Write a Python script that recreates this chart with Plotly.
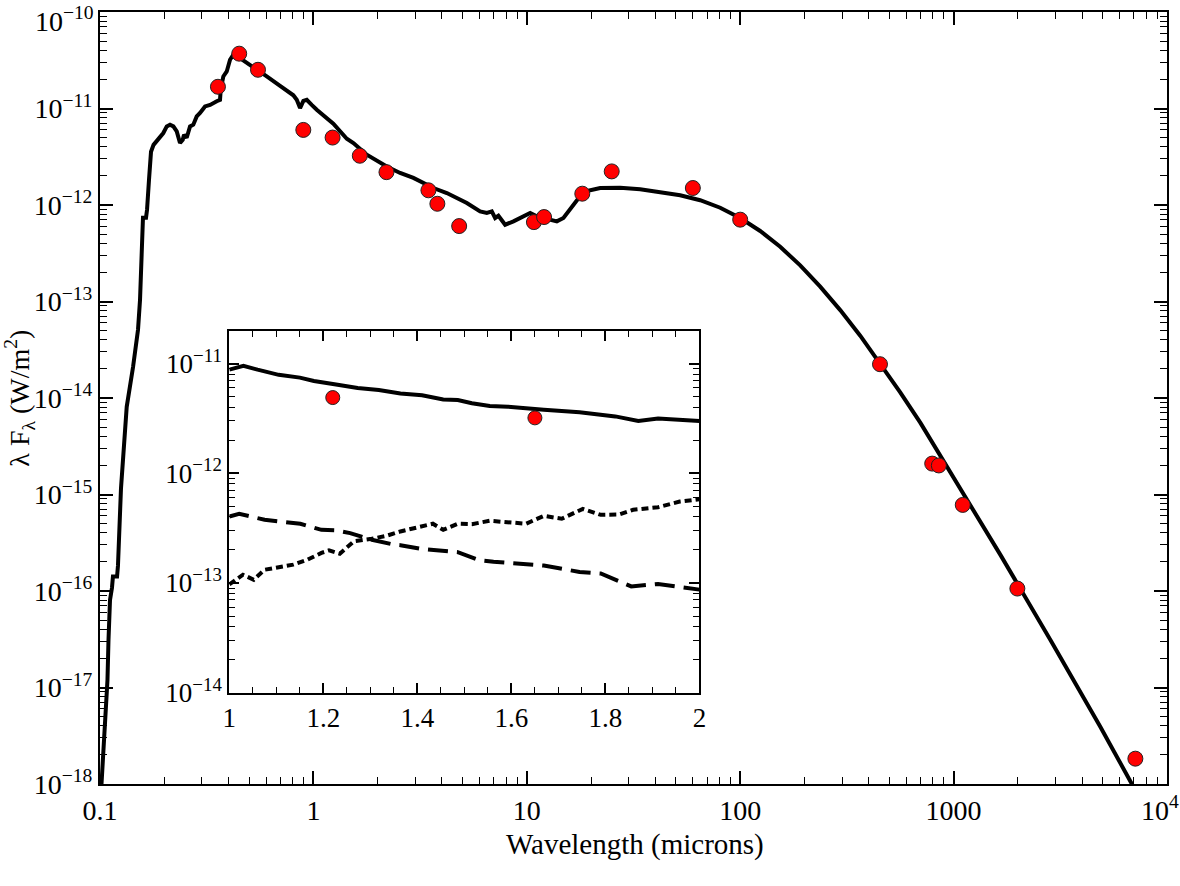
import plotly.graph_objects as go

# ---------------- data ----------------
# model SED (main panel): wavelength (micron), lambda*F_lambda (W/m^2)
model_wl = [0.1015, 0.1044, 0.1067, 0.1084, 0.1096, 0.1114, 0.1138, 0.1150, 0.1202, 0.1214,
            0.1254, 0.1288, 0.1334, 0.1429, 0.1507, 0.154, 0.1564, 0.1581, 0.159, 0.1643,
            0.1661, 0.1697, 0.1734, 0.1782, 0.1845, 0.191, 0.198, 0.2055, 0.2128, 0.2207,
            0.2289, 0.2371, 0.2442, 0.2476, 0.2548, 0.2642, 0.2737, 0.2839, 0.2943, 0.3106,
            0.328, 0.3524, 0.3651, 0.3679, 0.3784, 0.3926, 0.4067, 0.4216, 0.4373, 0.453,
            0.5232, 0.6045, 0.698, 0.8056, 0.8356, 0.866, 0.8975, 0.931, 0.982, 1.037,
            1.24, 1.434, 1.54, 1.779, 2.207, 2.549, 2.942, 3.651, 4.219, 5.236,
            6.043, 6.497, 6.855, 7.106, 7.364, 7.917, 8.659, 10.37, 11.14, 13.83,
            14.85, 18.43, 22.07, 27.38, 33.98, 42.17, 52.33, 64.94, 80.6, 100.0,
            124.1, 154.0, 191.1, 237.1, 294.3, 365.2, 453.3, 562.3, 698.1, 866.0,
            1075, 1334, 1655, 2839, 4870, 7028]
model_flux = [9.5e-19, 2.88e-18, 7.46e-18, 1.2e-17, 3.13e-17, 8.1e-17, 1.08e-16, 1.41e-16, 1.41e-16, 1.83e-16,
              1.15e-15, 3.13e-15, 8.1e-15, 2.11e-14, 5.1e-14, 1.04e-13, 3.44e-13, 6.7e-13, 7.4e-13, 7.4e-13,
              8.9e-13, 1.83e-12, 3.56e-12, 4.2e-12, 4.56e-12, 4.94e-12, 5.57e-12, 6.53e-12, 6.8e-12, 6.53e-12,
              5.8e-12, 4.39e-12, 4.75e-12, 5.35e-12, 4.98e-12, 6.53e-12, 6.8e-12, 8.28e-12, 8.98e-12, 1.05e-11,
              1.09e-11, 1.19e-11, 1.23e-11, 1.57e-11, 2.15e-11, 2.42e-11, 3.2e-11, 3.61e-11, 3.57e-11, 3.33e-11,
              2.71e-11, 2.15e-11, 1.72e-11, 1.37e-11, 1.23e-11, 1.01e-11, 1.2e-11, 1.23e-11, 1.09e-11, 9.7e-12,
              6.97e-12, 4.86e-12, 4.38e-12, 3.32e-12, 2.51e-12, 2.15e-12, 1.91e-12, 1.5e-12, 1.33e-12, 1.05e-12,
              8.6e-13, 8.26e-13, 8.58e-13, 7.33e-13, 7.74e-13, 6.25e-13, 6.77e-13, 8.26e-13, 7.62e-13, 6.77e-13,
              7.33e-13, 1.37e-12, 1.5e-12, 1.511e-12, 1.458e-12, 1.373e-12, 1.263e-12, 1.121e-12, 9.37e-13, 7.33e-13,
              5.38e-13, 3.69e-13, 2.366e-13, 1.427e-13, 8.15e-14, 4.42e-14, 2.294e-14, 1.146e-14, 5.55e-15, 2.52e-15,
              1.148e-15, 5.22e-16, 2.38e-16, 3.13e-17, 3.93e-18, 9.0e-19]

# photometry (main panel)
phot_wl = [0.357, 0.449, 0.55, 0.897, 1.23, 1.65, 2.2, 3.46, 3.81, 4.82, 10.8, 12.05,
           18.2, 25, 60, 100, 452, 794, 853, 1104, 1990, 7110]
phot_flux = [1.68e-11, 3.7e-11, 2.52e-11, 6.0e-12, 5.0e-12, 3.24e-12, 2.19e-12, 1.42e-12,
             1.03e-12, 6.05e-13, 6.65e-13, 7.5e-13, 1.31e-12, 2.23e-12, 1.5e-12, 7.05e-13,
             2.24e-14, 2.09e-15, 2.0e-15, 7.8e-16, 1.06e-16, 1.83e-18]

# inset: total model, two components, and J/H photometry
inset_tot_wl = [1.0, 1.03, 1.06, 1.105, 1.15, 1.18, 1.227, 1.273, 1.318, 1.364, 1.41,
                1.455, 1.486, 1.516, 1.554, 1.593, 1.669, 1.745, 1.821, 1.87, 1.912, 2.0]
inset_tot_flux = [8.8e-12, 9.55e-12, 8.8e-12, 7.9e-12, 7.45e-12, 6.95e-12, 6.45e-12, 6.0e-12,
                  5.75e-12, 5.35e-12, 5.15e-12, 4.7e-12, 4.65e-12, 4.35e-12, 4.1e-12, 4.05e-12,
                  3.8e-12, 3.6e-12, 3.3e-12, 3.0e-12, 3.15e-12, 3.0e-12]

inset_dash_wl = [1.0, 1.021, 1.075, 1.151, 1.196, 1.227, 1.257, 1.303, 1.349, 1.364, 1.41,
                 1.486, 1.532, 1.562, 1.669, 1.745, 1.79, 1.855, 1.912, 2.0]
inset_dash_flux = [4.04e-13, 4.27e-13, 3.77e-13, 3.47e-13, 3.05e-13, 3.02e-13, 2.85e-13,
                   2.48e-13, 2.24e-13, 2.21e-13, 2.04e-13, 1.91e-13, 1.61e-13, 1.56e-13,
                   1.44e-13, 1.26e-13, 1.22e-13, 9.3e-14, 9.8e-14, 8.7e-14]

inset_dot_wl = [1.0, 1.029, 1.052, 1.075, 1.136, 1.166, 1.196, 1.212, 1.235, 1.265, 1.303,
                1.334, 1.364, 1.41, 1.433, 1.455, 1.486, 1.516, 1.554, 1.631, 1.669, 1.707,
                1.752, 1.79, 1.829, 1.859, 1.912, 1.958, 2.0]
inset_dot_flux = [9.7e-14, 1.19e-13, 1.07e-13, 1.32e-13, 1.47e-13, 1.63e-13, 1.88e-13, 1.98e-13,
                  1.85e-13, 2.4e-13, 2.53e-13, 2.69e-13, 2.95e-13, 3.32e-13, 3.47e-13, 3.05e-13,
                  3.47e-13, 3.44e-13, 3.69e-13, 3.47e-13, 4.09e-13, 3.85e-13, 4.74e-13, 4.18e-13,
                  4.21e-13, 4.65e-13, 4.91e-13, 5.52e-13, 5.8e-13]

inset_phot_wl = [1.22, 1.65]
inset_phot_flux = [4.9e-12, 3.2e-12]

# tick labels
main_x_tickvals = [0.1, 1, 10, 100, 1000, 10000]
main_x_ticktext = ["0.1", "1", "10", "100", "1000", "10<sup>4</sup>\u00a0\u00a0"]
main_y_exps = [-18, -17, -16, -15, -14, -13, -12, -11, -10]
inset_x_tickvals = [1, 1.2, 1.4, 1.6, 1.8, 2]
inset_x_ticktext = ["1", "1.2", "1.4", "1.6", "1.8", "2"]
inset_y_exps = [-14, -13, -12, -11]

# ---------------- figure ----------------
FONT = "Liberation Serif, Times New Roman, serif"
W, H = 1180, 886
ML, MR, MT, MB = 100, 13, 12, 102
PH = H - MT - MB  # plot height in px


def exp_label(e):
    return "10<sup>\u2212%d</sup>" % (-e)


fig = go.Figure()

fig.add_trace(go.Scatter(x=model_wl, y=model_flux, mode="lines",
                         line=dict(color="black", width=4), xaxis="x", yaxis="y",
                         showlegend=False, hoverinfo="skip"))
fig.add_trace(go.Scatter(x=phot_wl, y=phot_flux, mode="markers",
                         marker=dict(color="#ff0000", size=15, line=dict(color="#222222", width=1)),
                         xaxis="x", yaxis="y", showlegend=False))

fig.add_trace(go.Scatter(x=inset_tot_wl, y=inset_tot_flux, mode="lines",
                         line=dict(color="black", width=4), xaxis="x2", yaxis="y2",
                         showlegend=False))
fig.add_trace(go.Scatter(x=inset_dash_wl, y=inset_dash_flux, mode="lines",
                         line=dict(color="black", width=4, dash="20px,9px"), xaxis="x2", yaxis="y2",
                         showlegend=False))
fig.add_trace(go.Scatter(x=inset_dot_wl, y=inset_dot_flux, mode="lines",
                         line=dict(color="black", width=4, dash="7px,4px"), xaxis="x2", yaxis="y2",
                         showlegend=False))
fig.add_trace(go.Scatter(x=inset_phot_wl, y=inset_phot_flux, mode="markers",
                         marker=dict(color="#ff0000", size=14, line=dict(color="#222222", width=1)),
                         xaxis="x2", yaxis="y2", showlegend=False))


def log_minor(lo, hi, top=None):
    vals = []
    for d in range(lo, hi):
        for m in range(2, 10):
            v = m * 10.0 ** d
            if top is None or v <= top:
                vals.append(v)
    return vals


axis_common = dict(showline=True, linecolor="black", linewidth=2, mirror="allticks",
                   ticks="inside", tickcolor="black", tickwidth=1.5, showgrid=False,
                   zeroline=False, automargin=False, ticklabeloverflow="allow",
                   tickfont=dict(family=FONT, size=28, color="black"))

# top label of the main y axis is drawn as an annotation (nudged down so it fits)
main_y_ticktext = [exp_label(e) if e != -10 else "" for e in main_y_exps]

fig.update_layout(
    width=W, height=H,
    margin=dict(l=ML, r=MR, t=MT, b=MB, pad=0),
    paper_bgcolor="white", plot_bgcolor="white",
    font=dict(family=FONT, color="black"),
    xaxis=dict(type="log", range=[-1, 4.0001], domain=[0, 1], anchor="y",
               tickmode="array", tickvals=main_x_tickvals, ticktext=main_x_ticktext,
               ticklen=13,
               minor=dict(tickmode="array", tickvals=log_minor(-1, 4), ticks="inside",
                          ticklen=7, tickcolor="black", tickwidth=1.2, showgrid=False),
               **axis_common),
    yaxis=dict(type="log", range=[-18, -9.9999], domain=[0, 1], anchor="x",
               tickmode="array", tickvals=[10.0 ** e for e in main_y_exps],
               ticktext=main_y_ticktext,
               ticklen=13,
               minor=dict(tickmode="array", tickvals=log_minor(-18, -10), ticks="inside",
                          ticklen=7, tickcolor="black", tickwidth=1.2, showgrid=False),
               **axis_common),
    xaxis2=dict(range=[1, 2], domain=[0.1212, 0.5618], anchor="y2",
                tickmode="array", tickvals=inset_x_tickvals, ticktext=inset_x_ticktext,
                ticklen=10,
                minor=dict(dtick=0.05, ticks="inside", ticklen=6, tickcolor="black",
                           tickwidth=1.2, showgrid=False),
                **{**axis_common, "tickfont": dict(family=FONT, size=27, color="black")}),
    yaxis2=dict(type="log", range=[-14, -10.7], domain=[0.1183, 0.5872], anchor="x2",
                tickmode="array", tickvals=[10.0 ** e for e in inset_y_exps],
                ticktext=[exp_label(e) for e in inset_y_exps],
                ticklen=10,
                minor=dict(tickmode="array", tickvals=log_minor(-14, -10, top=1.99e-11),
                           ticks="inside", ticklen=6, tickcolor="black", tickwidth=1.2,
                           showgrid=False),
                **{**axis_common, "tickfont": dict(family=FONT, size=27, color="black")}),
    annotations=[
        dict(text=exp_label(-10), xref="paper", yref="paper",
             x=0, xshift=-4, y=(PH - (19 - MT)) / PH, showarrow=False,
             font=dict(family=FONT, size=28, color="black"), xanchor="right", yanchor="middle"),
        dict(text="Wavelength (microns)", xref="paper", yref="paper",
             x=0.5016, y=(784.3 - 845) / 772, showarrow=False,
             font=dict(family=FONT, size=29, color="black"), xanchor="center", yanchor="middle"),
        dict(text="\u03bb F<sub>\u03bb</sub> (W/m<sup>2</sup>)", xref="paper", yref="paper",
             x=(20 - 100) / 1066.7, y=(784.3 - 398) / 772, showarrow=False, textangle=-90,
             font=dict(family=FONT, size=28, color="black"), xanchor="center", yanchor="middle"),
    ],
)

fig.write_html("out.html")
